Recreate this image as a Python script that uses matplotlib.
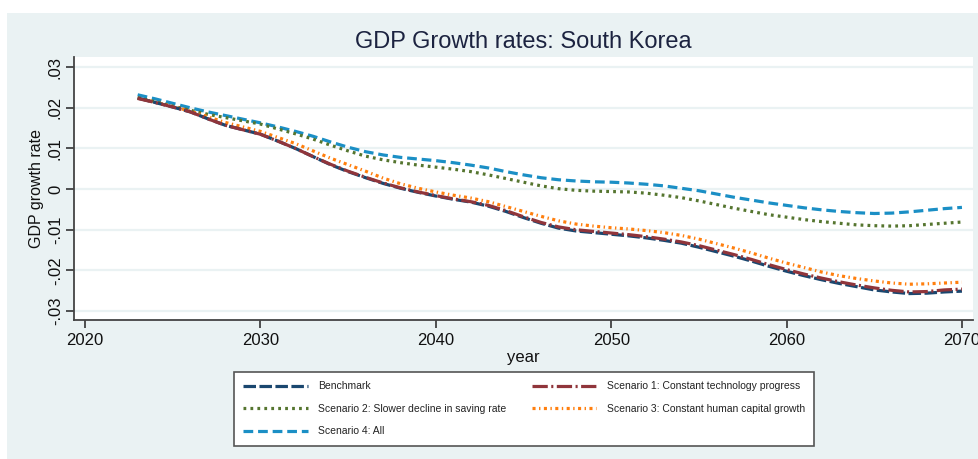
import numpy as np
import matplotlib
matplotlib.use("Agg")
import matplotlib.pyplot as plt
from matplotlib.patches import Rectangle

plt.rcParams['font.family'] = ['Liberation Sans', 'DejaVu Sans']
plt.rcParams['lines.scale_dashes'] = False

# GDP growth rate by year, 2023-2070
years = np.arange(2023, 2071)

benchmark = [0.0224, 0.0213, 0.0202, 0.0190, 0.0173, 0.0157, 0.0146, 0.0135,
             0.0118, 0.0100, 0.0080, 0.0060, 0.0043, 0.0028, 0.0014, 0.0002,
             -0.0008, -0.0017, -0.0025, -0.0032, -0.0042, -0.0055, -0.0070, -0.0084,
             -0.0096, -0.0103, -0.0107, -0.0111, -0.0115, -0.0120, -0.0126, -0.0133,
             -0.0143, -0.0154, -0.0165, -0.0177, -0.0190, -0.0202, -0.0213, -0.0223,
             -0.0232, -0.0240, -0.0248, -0.0253, -0.0257, -0.0256, -0.0253, -0.0251]

scenario1 = [0.0223, 0.0213, 0.0202, 0.0190, 0.0173, 0.0157, 0.0146, 0.0135,
             0.0118, 0.0100, 0.0080, 0.0061, 0.0044, 0.0029, 0.0015, 0.0003,
             -0.0007, -0.0016, -0.0024, -0.0031, -0.0040, -0.0053, -0.0068, -0.0082,
             -0.0093, -0.0100, -0.0104, -0.0108, -0.0112, -0.0117, -0.0123, -0.0130,
             -0.0139, -0.0150, -0.0161, -0.0173, -0.0186, -0.0198, -0.0209, -0.0219,
             -0.0228, -0.0236, -0.0243, -0.0249, -0.0253, -0.0252, -0.0248, -0.0246]

scenario2 = [0.0225, 0.0215, 0.0204, 0.0194, 0.0184, 0.0176, 0.0168, 0.0160,
             0.0148, 0.0136, 0.0123, 0.0108, 0.0094, 0.0081, 0.0072, 0.0065,
             0.0059, 0.0054, 0.0049, 0.0043, 0.0035, 0.0026, 0.0017, 0.0008,
             0.0001, -0.0003, -0.0005, -0.0006, -0.0007, -0.0010, -0.0015, -0.0021,
             -0.0029, -0.0038, -0.0047, -0.0055, -0.0063, -0.0069, -0.0075, -0.0080,
             -0.0084, -0.0088, -0.0090, -0.0091, -0.0090, -0.0087, -0.0084, -0.0081]

scenario3 = [0.0224, 0.0214, 0.0203, 0.0192, 0.0178, 0.0164, 0.0153, 0.0142,
             0.0127, 0.0112, 0.0094, 0.0076, 0.0060, 0.0044, 0.0027, 0.0013,
             0.0002, -0.0007, -0.0015, -0.0022, -0.0031, -0.0043, -0.0055, -0.0067,
             -0.0078, -0.0086, -0.0091, -0.0095, -0.0098, -0.0102, -0.0107, -0.0114,
             -0.0123, -0.0134, -0.0145, -0.0157, -0.0170, -0.0182, -0.0193, -0.0204,
             -0.0213, -0.0220, -0.0226, -0.0231, -0.0234, -0.0233, -0.0231, -0.0229]

scenario4 = [0.0232, 0.0222, 0.0211, 0.0200, 0.0190, 0.0181, 0.0172, 0.0163,
             0.0153, 0.0142, 0.0130, 0.0116, 0.0103, 0.0092, 0.0084, 0.0078,
             0.0074, 0.0070, 0.0065, 0.0059, 0.0052, 0.0043, 0.0035, 0.0028,
             0.0023, 0.0020, 0.0018, 0.0017, 0.0015, 0.0012, 0.0008, 0.0002,
             -0.0004, -0.0012, -0.0020, -0.0027, -0.0034, -0.0040, -0.0046, -0.0051,
             -0.0055, -0.0058, -0.0060, -0.0059, -0.0056, -0.0052, -0.0048, -0.0045]

labels = ["Benchmark", "Scenario 1: Constant technology progress",
          "Scenario 2: Slower decline in saving rate",
          "Scenario 3: Constant human capital growth", "Scenario 4: All"]

xticks = [2020, 2030, 2040, 2050, 2060, 2070]
yticks = [-0.03, -0.02, -0.01, 0, 0.01, 0.02, 0.03]
ytick_labels = ["-.03", "-.02", "-.01", "0", ".01", ".02", ".03"]

bg = "#eaf2f3"
fig = plt.figure(figsize=(9.79, 4.59), dpi=100)
fig.patch.set_facecolor("white")
fig.patches.append(Rectangle((7 / 979, 0), 1 - 7 / 979, (459 - 13) / 459,
                             transform=fig.transFigure, facecolor=bg,
                             edgecolor="none", zorder=-10))

ax = fig.add_axes([74 / 979, 1 - 320 / 459, (973 - 74) / 979, (320 - 57) / 459])
ax.set_facecolor("white")

lw = 2.3
ax.plot(years, scenario4, color="#1b8fc5", lw=lw, dashes=(7, 3.5), label=labels[4], zorder=3)
ax.plot(years, scenario2, color="#55752f", lw=lw, dashes=(2, 3), label=labels[2], zorder=3)
ax.plot(years, scenario3, color="#ff7f0e", lw=lw, dashes=(2.2, 2.5, 1.0, 2.5), label=labels[3], zorder=4)
ax.plot(years, benchmark, color="#1a476f", lw=lw, dashes=(9, 2.5), label=labels[0], zorder=5)
ax.plot(years, scenario1, color="#90353b", lw=lw, dashes=(11, 2.5, 1.5, 2.5), label=labels[1], zorder=6)

ax.set_xlim(2019.37, 2070.63)
ax.set_ylim(-0.0322, 0.0325)
ax.set_xticks(xticks)
ax.set_yticks(yticks)
ax.set_yticklabels(ytick_labels, rotation=90, va="center")
ax.tick_params(axis="both", colors="#333333", labelcolor="#111111", labelsize=12,
               length=6, width=1.2, direction="out")
ax.tick_params(axis="y", pad=2)
ax.grid(axis="y", color=bg, lw=1.6)
ax.set_axisbelow(True)
for s in ["top", "right"]:
    ax.spines[s].set_visible(False)
for s in ["left", "bottom"]:
    ax.spines[s].set_color("#444444")
    ax.spines[s].set_linewidth(1.3)

ax.set_xlabel("year", fontsize=12, color="#111111", labelpad=1)
ax.set_ylabel("GDP growth rate", fontsize=11.5, color="#111111", labelpad=3)
fig.text((74 + 973) / 2 / 979, 1 - 42 / 459, "GDP Growth rates: South Korea",
         fontsize=17, color="#1c2340", ha="center", va="center")

handles, labs = ax.get_legend_handles_labels()
order = [labels[0], labels[2], labels[4], labels[1], labels[3]]
hmap = dict(zip(labs, handles))
leg = fig.legend([hmap[l] for l in order], order, ncol=2, loc="upper left",
                 bbox_to_anchor=(234 / 979, 1 - 372 / 459), borderaxespad=0,
                 fontsize=7.5, frameon=True, fancybox=False, framealpha=1,
                 edgecolor="#555555", handlelength=6.2, handletextpad=1.0,
                 columnspacing=2.4, labelspacing=1.2, borderpad=0.9)
leg.get_frame().set_linewidth(1.2)
for t in leg.get_texts():
    t.set_color("#222222")

fig.savefig("out.png", dpi=100, facecolor=fig.get_facecolor())
